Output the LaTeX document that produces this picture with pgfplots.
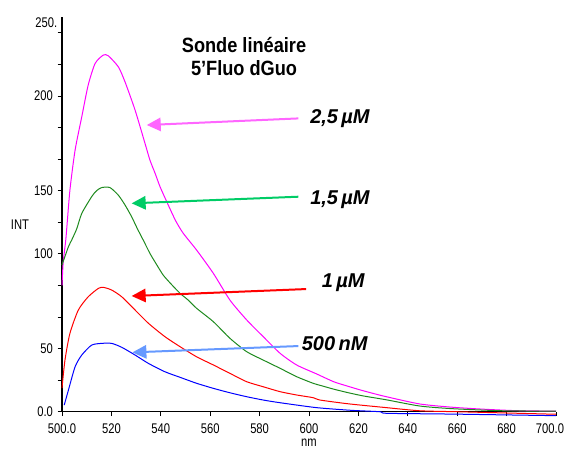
\documentclass[border=0pt]{standalone}
\usepackage{pgfplots}
\pgfplotsset{compat=1.18}
\usetikzlibrary{arrows.meta}
\usepackage{fontspec}
\setmainfont{Liberation Sans}
\newfontfamily\condfont{Liberation Sans}[FakeStretch=0.8]
\newfontfamily\titlefont{Liberation Sans}[FakeStretch=0.88]
\definecolor{cMag}{HTML}{FF00FF}
\definecolor{cMagA}{HTML}{FF66FF}
\definecolor{cGrn}{HTML}{1E8A1E}
\definecolor{cGrnA}{HTML}{00CC66}
\definecolor{cRed}{HTML}{FF0000}
\definecolor{cBlu}{HTML}{0000FF}
\definecolor{cBluA}{HTML}{6699FF}
\begin{document}
\begin{tikzpicture}
\begin{axis}[
  scale only axis, width=370.5pt, height=296pt,
  xmin=500, xmax=700, ymin=0, ymax=250,
  axis lines=left, axis line style={-, line width=0.8pt},
  tick align=outside, major tick length=3.3pt,
  tick style={black, line width=0.6pt},
  xtick={500,520,...,680},
  xticklabels={500.0,520,540,560,580,600,620,640,660,680},
  extra x ticks={700}, extra x tick labels={700.0},
  extra x tick style={xticklabel style={xshift=-4.5pt}},
  ytick={0,20,...,240},
  yticklabels={0.0,{},50,{},{},100,{},150,{},{},200,{},{}},
  extra y ticks={250}, extra y tick labels={250.},
  extra y tick style={major tick length=0pt, yticklabel style={yshift=-4.5pt}},
  /pgf/number format/assume math mode=true,
  ticklabel style={font=\condfont\fontsize{10.5}{12}\selectfont},
  xticklabel style={yshift=-2pt},
  clip=false,
  every axis plot/.append style={line width=0.75pt, smooth, tension=0.4},
]
\coordinate (O) at (rel axis cs:0,0);
% 2,5 uM
\addplot[cMag] coordinates {
(500,80) (500.5,95) (501.6,110) (503.2,140.3) (505.3,165.7) (508,186.8)
(510.6,206.9) (513.4,220.6) (516.7,225.9) (518.7,225.5) (522.8,218.5)
(525.5,209) (529.6,191) (533.6,170) (535.6,159.4) (537.7,151) (539.7,142.5)
(543,131) (546,121) (549.1,113) (554.5,102.4) (561.3,87.6) (568,70.7)
(574.8,58.1) (581.5,47.5) (588.3,37) (595,29.6) (603,24) (610,19)
(615,16.5) (621,13.7) (630,10) (644.9,4.9) (658.4,2.8) (671.9,1.5)
(685.4,0.6) (700,0.4)};
% 1,5 uM
\addplot[cGrn] coordinates {
(500,93) (502.6,104.5) (504,109) (506,116) (508,125.6) (512,136.2) (514,140)
(516.1,142) (519.4,142) (522.8,137.2) (525.5,131) (528.2,123.5) (530.5,116)
(532.9,108.7) (535.6,100.3) (538,94) (541,86.5) (544.4,80.5) (547.8,75)
(551.1,70.7) (554.5,65.5) (561.3,57) (568,46.5) (574.8,38) (581.5,32.7)
(588.3,27.5) (595,22.2) (601.7,18) (605,16.5) (610,14.3) (616,12) (622,10)
(631.5,7.5) (644.9,3.6) (658.4,1.9) (678.7,0.6) (700,0.4)};
% 1 uM
\addplot[cRed] coordinates {
(500,15) (501.2,32.7) (503.2,49.6) (506.6,64.4) (510.6,72.8) (514.7,78.1)
(516.7,78.8) (520.1,77.1) (524.2,72.8) (529.6,64.4) (535,56) (541.7,47.5)
(547.8,41.2) (554.5,34.8) (561.3,29.6) (568,24.3) (574.8,19) (581.5,15.8)
(588.3,12.7) (595,10.6) (601.7,8.9) (604.5,7.4) (616,5) (630,2.8)
(644.9,0.6) (660,0) (680,-0.8) (700,-1.6)};
% 500 nM
\addplot[cBlu] coordinates {
(500.9,4.2) (502.6,13.7) (505.3,28.5) (508,35.9) (512,42.2) (516.1,43.3)
(520.1,43.3) (524.2,40.8) (529.6,35.9) (535,30.6) (541.7,25.3) (547.8,21.8)
(554.5,18) (561.3,14.8) (568,12) (574.8,9.5) (581.5,7.4) (588.3,5.7)
(603,2.6) (617,0.9) (628.7,0) (631.5,-1) (658,-1.5) (700,-2.5)};
% arrows
\begin{scope}[line width=1.5pt]
\draw[cMagA, -{Triangle[length=10.5pt,width=10pt]}] (axis cs:595.7,185.8) -- (axis cs:534.3,181.6);
\draw[cGrnA, -{Triangle[length=10.5pt,width=10pt]}] (axis cs:595.7,136.2) -- (axis cs:528.2,132);
\draw[cRed, -{Triangle[length=10.5pt,width=10pt]}] (axis cs:598.8,77.7) -- (axis cs:528.2,73.3);
\draw[cBluA, -{Triangle[length=10.5pt,width=10pt]}] (axis cs:595.7,41.6) -- (axis cs:528.5,37.6);
\end{scope}
\node[anchor=west, inner sep=0pt, font=\fontsize{15}{16}\selectfont\bfseries\itshape] at (axis cs:600.4,186) {2,5\,µM};
\node[anchor=west, inner sep=0pt, font=\fontsize{15}{16}\selectfont\bfseries\itshape] at (axis cs:600.4,134) {1,5\,µM};
\node[anchor=west, inner sep=0pt, font=\fontsize{15}{16}\selectfont\bfseries\itshape] at (axis cs:605.1,82) {1\,µM};
\node[anchor=west, inner sep=0pt, font=\fontsize{15}{16}\selectfont\bfseries\itshape] at (axis cs:597,43.3) {500\,nM};
\node[align=center, inner sep=0pt, font=\titlefont\fontsize{15.5}{17}\selectfont\bfseries] at (axis cs:573.7,224.8) {Sonde linéaire\\5’Fluo dGuo};
\node[font=\condfont\fontsize{10.5}{12}\selectfont] at (axis cs:483,118.5) {INT};
\node[font=\condfont\fontsize{10.5}{12}\selectfont] at (axis cs:600,-19.8) {nm};
\end{axis}
\pgfresetboundingbox
\path[use as bounding box] ([shift={(-46.5pt,-27.98pt)}]O) rectangle ([shift={(377.25pt,308.8pt)}]O);
\end{tikzpicture}
\end{document}
